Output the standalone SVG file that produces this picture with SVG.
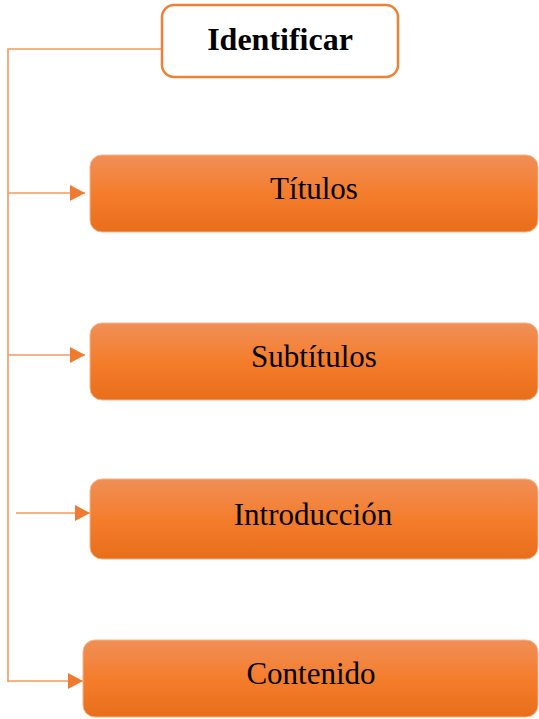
<svg xmlns="http://www.w3.org/2000/svg" width="539" height="719" viewBox="0 0 539 719">
<defs>
<linearGradient id="og" x1="0" y1="0" x2="0" y2="1">
<stop offset="0" stop-color="#f08f58"/>
<stop offset="0.5" stop-color="#f47d2c"/>
<stop offset="1" stop-color="#e86e1a"/>
</linearGradient>
<marker id="ah" viewBox="0 0 10 10" refX="10" refY="5" markerWidth="15" markerHeight="16" markerUnits="userSpaceOnUse" orient="auto" preserveAspectRatio="none">
<path d="M0,0 L10,5 L0,10 Z" fill="#f07b30"/>
</marker>
<style>
.box{fill:url(#og);stroke:#f6b48a;stroke-width:1}
.lbl{font-family:"Liberation Serif","Times New Roman",serif;font-size:31px;fill:#000;text-anchor:middle}
.con{stroke:#f29a5f;stroke-width:1.6;fill:none}
</style>
</defs>
<g id="connectors">
<polyline class="con" points="162,49 8,49 8,682"/>
<line class="con" x1="8" y1="193" x2="85" y2="193" marker-end="url(#ah)"/>
<line class="con" x1="8" y1="355" x2="85" y2="355" marker-end="url(#ah)"/>
<line class="con" x1="16" y1="513" x2="90" y2="513" marker-end="url(#ah)"/>
<line class="con" x1="8" y1="681" x2="83" y2="681" marker-end="url(#ah)"/>
</g>
<g id="identificar">
<rect x="162" y="5" width="236" height="72" rx="12" fill="#fff" stroke="#ef8136" stroke-width="2.5"/>
<text x="280" y="50" font-family="'Liberation Serif','Times New Roman',serif" font-size="32" font-weight="bold" text-anchor="middle">Identificar</text>
</g>
<g id="titulos">
<rect class="box" x="90" y="155" width="448" height="77" rx="12"/>
<text class="lbl" x="314" y="199">Títulos</text>
</g>
<g id="subtitulos">
<rect class="box" x="90" y="323" width="448" height="77" rx="12"/>
<text class="lbl" x="314" y="367">Subtítulos</text>
</g>
<g id="introduccion">
<rect class="box" x="90" y="479" width="448" height="80" rx="12"/>
<text class="lbl" x="313" y="525">Introducción</text>
</g>
<g id="contenido">
<rect class="box" x="83" y="640" width="455" height="77" rx="12"/>
<text class="lbl" x="311" y="684">Contenido</text>
</g>
</svg>
